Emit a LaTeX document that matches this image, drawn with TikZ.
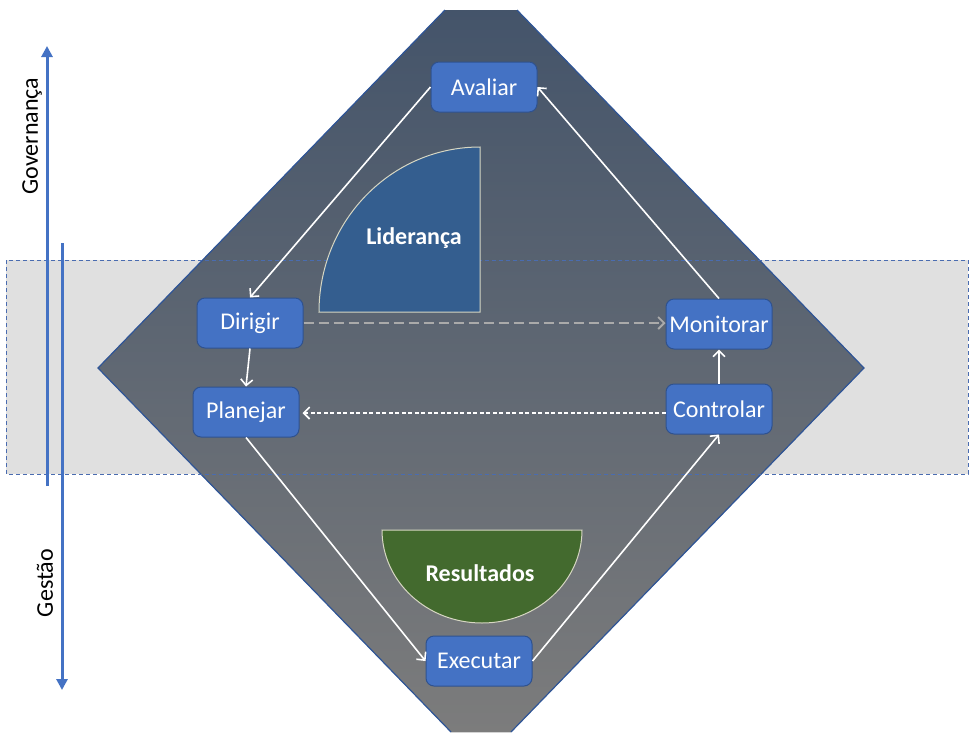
\documentclass[tikz,border=0pt]{standalone}
\usepackage{fontspec}
\setmainfont{Carlito}
\usetikzlibrary{arrows.meta,calc}

\definecolor{boxblue}{RGB}{68,114,196}
\definecolor{boxedge}{RGB}{47,82,143}
\definecolor{rimblue}{RGB}{47,85,151}
\definecolor{lidblue}{RGB}{52,94,143}
\definecolor{resgreen}{RGB}{67,106,46}
\definecolor{resedge}{RGB}{215,215,195}
\definecolor{bandgrey}{RGB}{224,224,224}
\definecolor{bandedge}{RGB}{74,108,176}
\definecolor{topslate}{RGB}{68,84,106}
\definecolor{botgrey}{RGB}{124,124,124}
\definecolor{dashgrey}{RGB}{170,170,170}

\tikzset{
  stagebox/.style={draw=boxedge, line width=1pt, fill=boxblue, rounded corners=8pt,
    minimum width=106pt, minimum height=50pt, text=white,
    font=\fontsize{24}{28}\selectfont, inner sep=0pt},
  flow/.style={draw=white, line width=1.6pt, -{Straight Barb[length=6pt,width=12pt]}},
  loopdash/.style={draw=white, line width=1.6pt, dash pattern=on 4pt off 2.5pt,
    -{Straight Barb[length=6pt,width=12pt]}},
  linkdash/.style={draw=dashgrey, line width=1.8pt, dash pattern=on 10pt off 5pt,
    -{Straight Barb[length=6pt,width=12pt]}},
  axis/.style={draw=boxblue, line width=3pt, -{Triangle[length=11pt,width=11pt]}},
  sidelabel/.style={font=\fontsize{24}{28}\selectfont, rotate=90, inner sep=0pt},
  shapelabel/.style={font=\fontsize{24}{28}\selectfont\bfseries, text=white, inner sep=0pt}
}

\begin{document}
\begin{tikzpicture}[x=1pt,y=-1pt]
\useasboundingbox (0,0) rectangle (970,732);
\fill[white] (0,0) rectangle (970,732);

% grey management band behind the diamond
\fill[bandgrey] (6,260) rectangle (968,474);

% truncated diamond with vertical gradient
\fill[top color=topslate, bottom color=botgrey]
  (445,10) -- (517,10) -- (864,368) -- (511,732) -- (451,732) -- (98,368) -- cycle;
\draw[rimblue, line width=1.2pt] (445,10) -- (98,368) -- (451,732);
\draw[rimblue, line width=1.2pt] (517,10) -- (864,368) -- (511,732);

% dashed border of the band
\draw[bandedge, line width=1pt, dash pattern=on 4pt off 3pt] (6,260) rectangle (968,474);

% leadership quadrant
\draw[resedge, line width=1pt, fill=lidblue]
  (319,312) arc[start angle=180, end angle=270, x radius=161, y radius=165] -- (480,312) -- cycle;
\node[shapelabel] (lid) at (414,238) {Liderança};

% results half disc
\draw[resedge, line width=1pt, fill=resgreen]
  (582,530) arc[start angle=0, end angle=180, x radius=100, y radius=93] -- cycle;
\node[shapelabel] (res) at (480,573) {Resultados};

% stages
\node[stagebox] (av) at (484,87) {Avaliar};
\node[stagebox] (di) at (250,323) {Dirigir};
\node[stagebox] (pl) at (246,412) {Planejar};
\node[stagebox] (mo) at (719,324) {Monitorar};
\node[stagebox] (co) at (719,409) {Controlar};
\node[stagebox] (ex) at (479,661) {Executar};

% cycle connectors
\draw[flow] (av.west) -- (di.north);
\draw[flow] (di.south) -- (pl.north);
\draw[flow] (pl.south) -- (ex.west);
\draw[flow] (ex.east) -- (co.south);
\draw[flow] (co.north) -- (mo.south);
\draw[flow] (mo.north) -- (av.east);
\draw[linkdash] (di.east) -- (di.east -| mo.west);
\draw[loopdash] ($(co.west)+(0,4)$) -- ($(co.west -| pl.east)+(3,4)$);

% governance / management axes
\coordinate (govlow) at (47,486);
\coordinate (govtop) at (47,46);
\coordinate (gestop) at (62,243);
\coordinate (geslow) at (62,690);
\draw[axis] (govlow) -- (govtop);
\draw[axis] (gestop) -- (geslow);
\node[sidelabel] (gov) at (32,136) {Governança};
\node[sidelabel] (ges) at (45,583) {Gestão};
\end{tikzpicture}
\end{document}
